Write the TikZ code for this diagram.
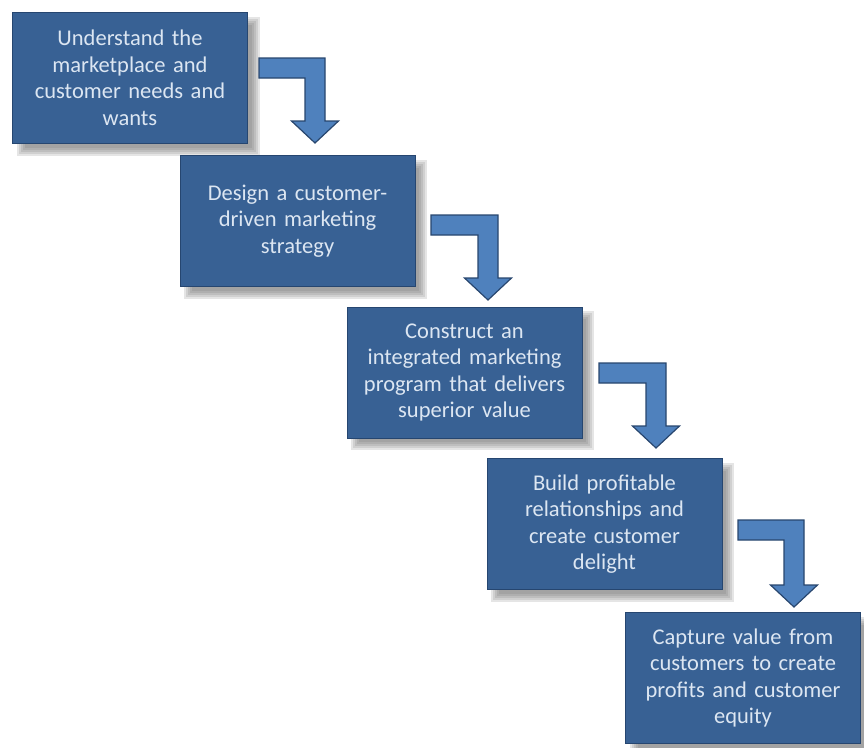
\documentclass[tikz,border=0pt]{standalone}
\usepackage{fontspec}
\setmainfont{Carlito}[WordSpace=0.8]
\definecolor{boxfill}{RGB}{56,97,148}
\definecolor{boxline}{RGB}{38,70,112}
\definecolor{boxtext}{RGB}{220,230,242}
\definecolor{arrfill}{RGB}{79,129,189}
\definecolor{arrline}{RGB}{40,70,110}
\newcommand\bentarrow[4]{% L T X Y  (bar left, bar top, tip x, tip y)
  \fill[arrfill,draw=arrline,line width=1.2pt,line join=miter]
    (#1,#2) -- (#3+10,#2) -- (#3+10,#4-22) -- (#3+23.5,#4-22) -- (#3,#4)
    -- (#3-23.5,#4-22) -- (#3-10,#4-22) -- (#3-10,#2+20) -- (#1,#2+20) -- cycle;}
\begin{document}
\begin{tikzpicture}[x=1pt,y=-1pt,
  stepbox/.style={draw=boxline,line width=1pt,fill=boxfill,text=boxtext,
    minimum width=235pt,minimum height=131pt,inner sep=0pt,align=center,
    text width=228pt,font=\fontsize{22.5}{26.5}\selectfont}]
\useasboundingbox (0,0) rectangle (864,747);
% shadows
\foreach \cx/\cy in {130/78, 297.5/221, 464.5/372.5, 604.5/524, 743/678}{
  \foreach \d in {-4,-2,0,2,4}{
    \fill[black!60,opacity=0.17] (\cx-117.5+8-\d,\cy-65.5+8-\d) rectangle (\cx+117.5+8+\d,\cy+65.5+8+\d);
  }
}
\node[stepbox] (b1) at (130,78) {Understand the\\marketplace and\\customer needs and\\wants};
\node[stepbox] (b2) at (297.5,221) {Design a customer-\\driven marketing\\strategy};
\node[stepbox] (b3) at (464.5,372.5) {Construct an\\integrated marketing\\program that delivers\\superior value};
\node[stepbox] (b4) at (604.5,524) {Build profitable\\relationships and\\create customer\\delight};
\node[stepbox] (b5) at (743,678) {Capture value from\\customers to create\\profits and customer\\equity};
\bentarrow{259}{58}{315}{143}
\bentarrow{431}{215}{488}{300}
\bentarrow{599}{363}{656}{448}
\bentarrow{738}{520}{794}{607}
\end{tikzpicture}
\end{document}
